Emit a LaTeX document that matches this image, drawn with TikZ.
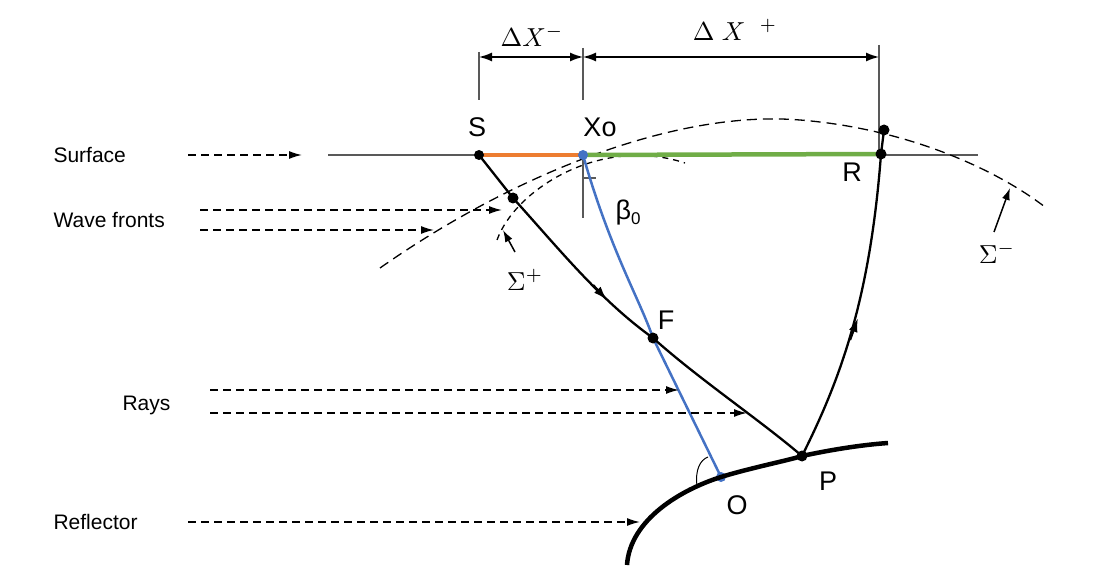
\documentclass[tikz,border=0pt]{standalone}
\usepackage{fontspec}
\setmainfont{Liberation Sans}
\usetikzlibrary{arrows.meta}
\definecolor{obl}{RGB}{68,114,196}
\definecolor{ogr}{RGB}{112,173,71}
\definecolor{oor}{RGB}{237,125,49}
\begin{document}
\begin{tikzpicture}[x=1pt,y=-1pt,
 lab/.style={font=\fontsize{27}{30}\selectfont},
 slab/.style={font=\fontsize{21}{24}\selectfont},
 mlab/.style={scale=2.6},
 dsh/.style={dash pattern=on 8pt off 5pt},
 darr/.style={dsh,-{Latex[length=13pt,width=8pt]},line width=1.5pt},
 dot/.style={circle,fill=black,inner sep=0pt,minimum size=11pt},
 gline/.style={gray!70!black,line width=1.3pt}]
\useasboundingbox (0,0) rectangle (1100,580);
\coordinate (S) at (479,155); \coordinate (X) at (583,155); \coordinate (R) at (881,154);
\coordinate (R2) at (884,130); \coordinate (W) at (513,198); \coordinate (F) at (653,338);
\coordinate (P) at (802,456); \coordinate (O) at (721,477);
% surface
\draw[gline] (328,155) -- (978,155);
% dimension lines
\draw[gline] (479,52) -- (479,100); \draw[gline] (583,48) -- (583,100);
\draw[gline] (583,160) -- (583,218); \draw[gline] (879,45) -- (879,154);
\draw[gline] (583,178) -- (596,178);
\draw[line width=1.5pt,{Latex[length=13pt,width=9pt]}-{Latex[length=13pt,width=9pt]}] (479,57) -- (583,57);
\draw[line width=1.5pt,{Latex[length=13pt,width=9pt]}-{Latex[length=13pt,width=9pt]}] (583,57) -- (879,57);
\node[mlab] at (532,36) {$\Delta X^-$};
\node[mlab] at (735,30) {$\Delta\ X^{\ \ +}$};
% wavefronts
\draw[dash pattern=on 10pt off 6pt,line width=1.3pt] (380,268) .. controls (520,170) and (680,110) .. (800,120) .. controls (900,128) and (990,165) .. (1045,207);
\draw[dash pattern=on 6pt off 5pt,line width=1.3pt] (497,240) .. controls (515,190) and (600,135) .. (685,163);
% surface segments
\draw[oor,line width=4.5pt] (S) -- (X);
\draw[ogr,line width=4.5pt] (X) -- (R);
% blue line
\draw[obl,line width=2.5pt] (X) .. controls (610,250) and (640,300) .. (F) -- (O);
\fill[obl] (O) circle (5pt); \fill[obl] (X) circle (5pt);
% rays
\draw[line width=2.3pt] (S) -- (W) .. controls (560,250) and (600,300) .. (F) .. controls (700,380) and (760,420) .. (P);
\draw[-{Latex[length=14pt,width=9pt]},line width=2.3pt] (593,285) -- (607,300);
\draw[line width=2.3pt] (P) .. controls (840,380) and (870,300) .. (R) -- (R2);
\draw[-{Latex[length=14pt,width=9pt]},line width=2.3pt] (850,340) -- (858,318);
% reflector
\draw[line width=4.5pt] (627,565) .. controls (630,520) and (680,490) .. (O) .. controls (750,468) and (790,460) .. (P) .. controls (830,450) and (860,445) .. (888,443);
\draw[line width=1pt] (697,486) .. controls (695,470) and (700,460) .. (708,457);
% dots
\node[dot,minimum size=10pt] at (S) {}; \node[dot] at (W) {}; \node[dot] at (F) {};
\node[dot] at (P) {}; \node[dot] at (R) {}; \node[dot] at (R2) {};
% labels
\node[lab] at (477,127) {S}; \node[lab] at (600,127) {Xo}; \node[lab] at (852,172) {R};
\node[lab] at (666,320) {F}; \node[lab] at (737,505) {O}; \node[lab] at (828,481) {P};
\node[lab] at (628,213) {β\raisebox{-5pt}{\fontsize{17}{18}\selectfont 0}};
\node[mlab] at (525,280) {$\Sigma^+$};
\node[mlab] at (997,253) {$\Sigma^-$};
\draw[-{Latex[length=12pt,width=8pt]},line width=1.5pt] (515,252) -- (503,230);
\draw[-{Latex[length=12pt,width=8pt]},line width=1.5pt] (994,232) -- (1010,188);
% left labels
\node[slab,anchor=west] at (50,155) {Surface};
\node[slab,anchor=west] at (50,220) {Wave fronts};
\node[slab,anchor=west] at (119,405) {Rays};
\node[slab,anchor=west] at (50,522) {Reflector};
\draw[darr] (188,155) -- (302,155);
\draw[darr] (200,210) -- (502,210);
\draw[darr] (200,230) -- (434,230);
\draw[darr] (210,390) -- (679,390);
\draw[darr] (210,413) -- (747,413);
\draw[darr] (188,522) -- (640,522);
\end{tikzpicture}
\end{document}
